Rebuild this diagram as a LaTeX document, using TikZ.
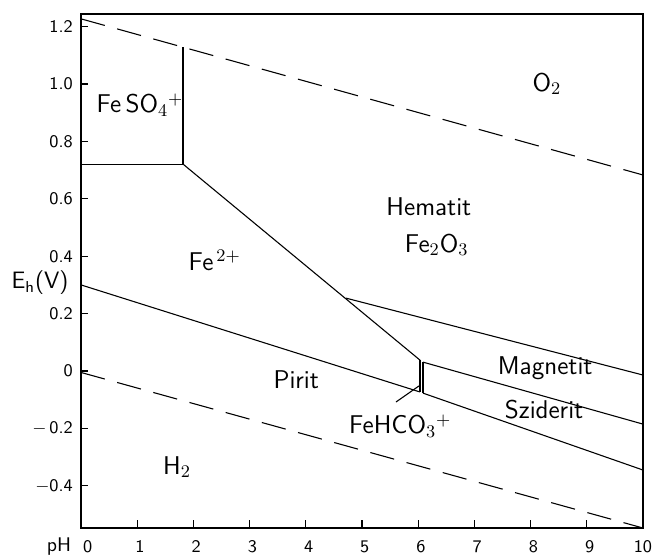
\documentclass[tikz,border=0pt]{standalone}
\usepackage{tikz}
\usetikzlibrary{positioning, calc}

\begin{document}
\begin{tikzpicture}[x=1cm, y=5.107cm, line width=0.55pt,
    field/.style={font=\sffamily\fontsize{13}{15}\selectfont, inner sep=1pt},
    ticklab/.style={font=\sffamily\small, inner sep=1pt},
    water/.style={dash pattern=on 12.5pt off 6.5pt}]
    \useasboundingbox (-1.441,-0.6446) rectangle (10.178,1.2927);

    % frame
    \coordinate (ll) at (0,-0.547);
    \coordinate (ur) at (10,1.244);
    \draw[line width=0.7pt] (ll) rectangle (ur);

    % ticks
    \foreach \x in {1,...,9} {
        \draw (\x,-0.547) -- (\x,-0.519);
        \node[ticklab] (px\x) at (\x+0.05,-0.613) {\x};
    }
    \node[ticklab] (px0) at (0.12,-0.613) {0};
    \node[ticklab] (px10) at (10,-0.613) {10};
    \foreach \y/\t in {1.2/1.2, 1.0/1.0, 0.8/0.8, 0.6/0.6, 0.4/0.4, 0.2/0.2, 0/0, -0.2/$-$\,0.2, -0.4/$-$0.4} {
        \draw (0,\y) -- (0.13,\y);
        \node[ticklab, anchor=east] at (-0.1,\y) {\t};
    }
    \node[ticklab, font=\sffamily\large] (eh) at (-0.73,0.307) {E\textsubscript{h}(V)};
    \node[ticklab, font=\sffamily\normalsize] (ph) at (-0.39,-0.613) {pH};

    % stability of water
    \coordinate (o2a) at (0,1.227);
    \coordinate (o2b) at (10,0.683);
    \coordinate (h2a) at (0,-0.005);
    \coordinate (h2b) at (10,-0.547);
    \draw[water] (o2a) -- (o2b);
    \draw[water] (h2a) -- (h2b);

    % boundaries
    \coordinate (a) at (1.815,0.721);
    \coordinate (a0) at (0,0.721);
    \coordinate (a1) at (1.815,1.128);
    \coordinate (j) at (4.715,0.254);
    \coordinate (b) at (6.032,0.038);
    \coordinate (bl) at (6.032,-0.073);
    \coordinate (c) at (6.085,0.031);
    \coordinate (cl) at (6.085,-0.077);
    \coordinate (p0) at (0,0.30);
    \draw (a0) -- (a) -- (a1);
    \draw (a) -- (b);
    \draw (b) -- (bl);
    \draw (c) -- (cl);
    \draw (p0) -- (bl);
    \draw (j) -- (10,-0.014);
    \draw (c) -- (10,-0.185);
    \draw (cl) -- (10,-0.345);

    % labels
    \node[field] (feso) at (1.05,0.927) {Fe\,SO$_4{}^{+}$};
    \node[field] (o2) at (8.29,1.0) {O$_2$};
    \node[field] (hem) at (6.19,0.571) {Hematit};
    \node[field] (feo) at (6.33,0.439) {Fe$_2$O$_3$};
    \node[field] (fe2) at (2.38,0.385) {Fe$^{\,2+}$};
    \node[field] (pir) at (3.83,-0.031) {Pirit};
    \node[field] (mag) at (8.26,0.010) {Magnetit};
    \node[field] (szi) at (8.24,-0.136) {Sziderit};
    \node[field] (fehc) at (5.68,-0.192) {FeHCO$_3{}^{+}$};
    \node[field] (h2) at (1.71,-0.334) {H$_2$};
    \coordinate (lead) at (6.014,-0.052);
    \draw (5.605,-0.108) -- (lead);
\end{tikzpicture}
\end{document}
